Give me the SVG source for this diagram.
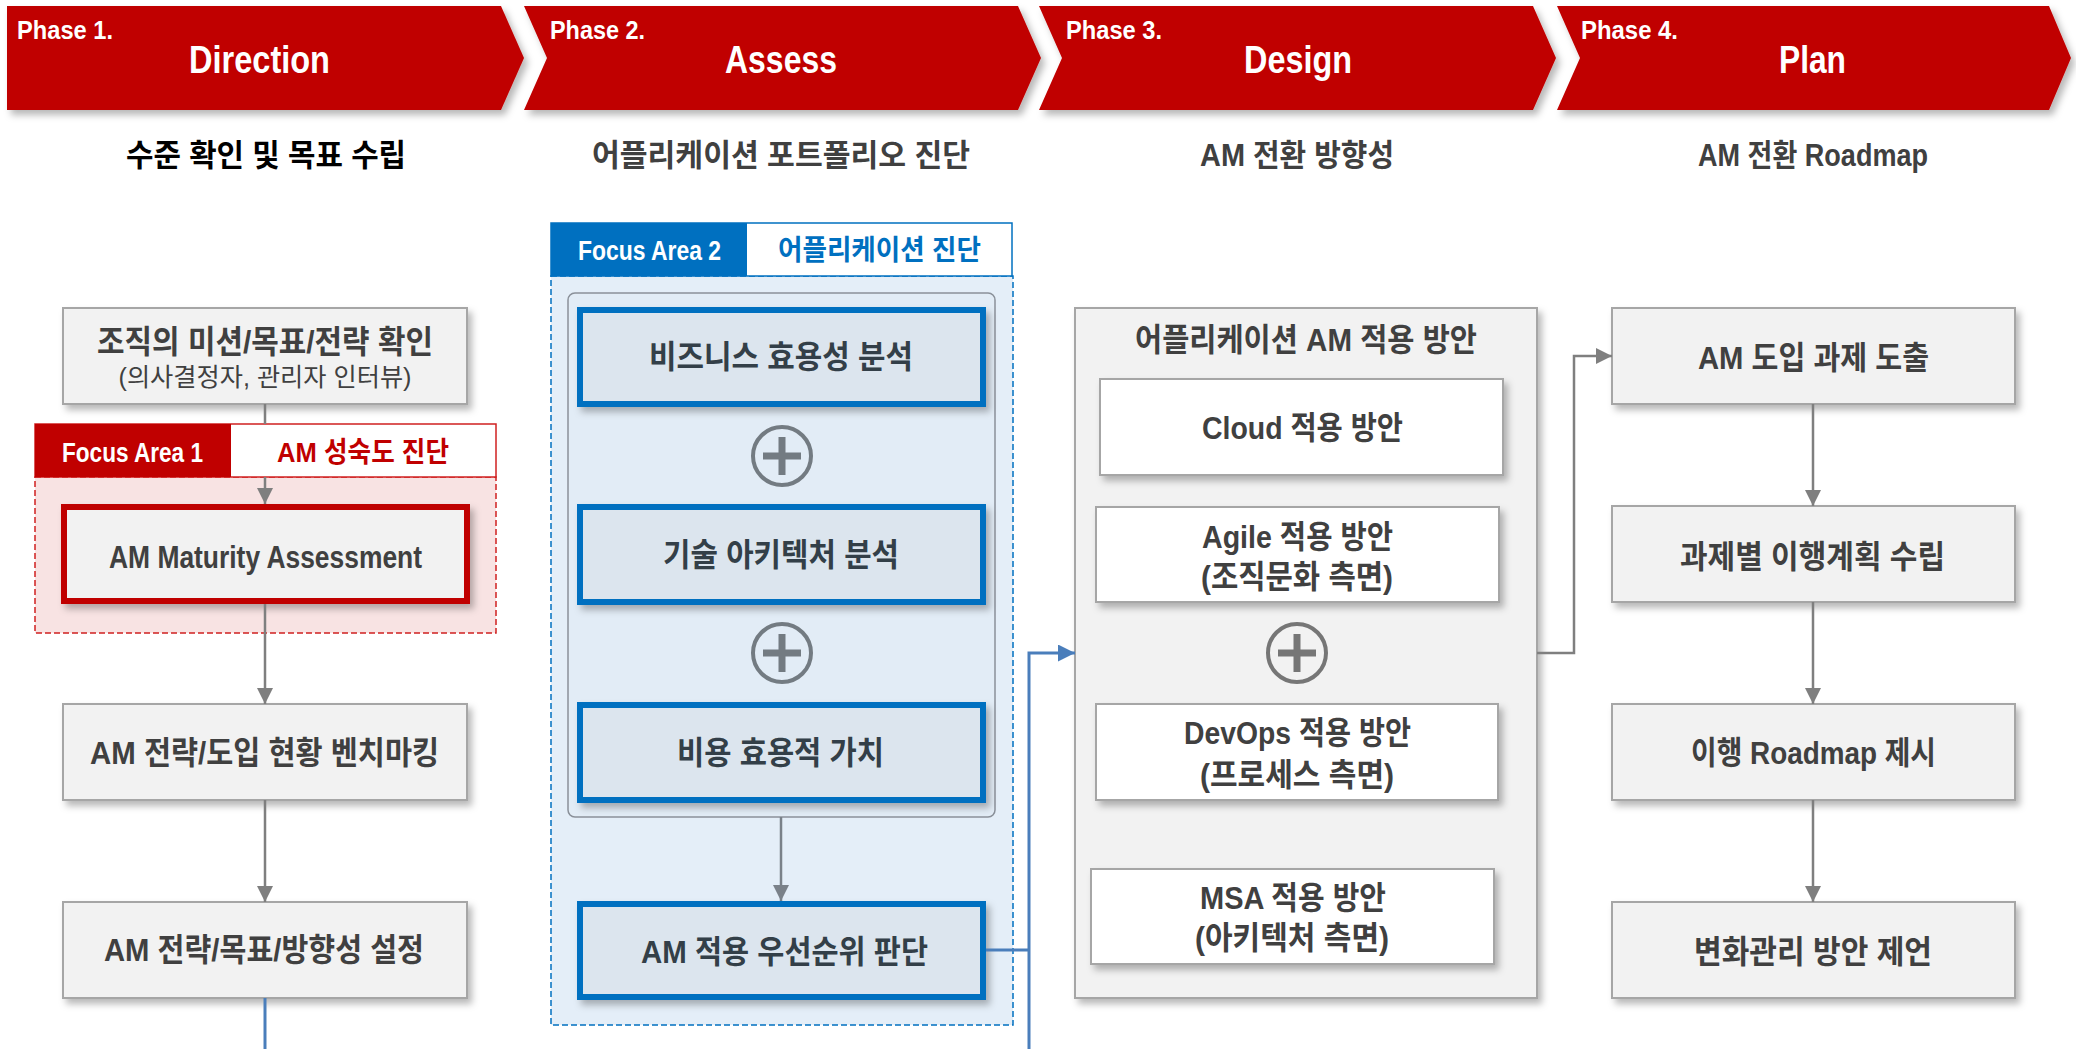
<svg xmlns="http://www.w3.org/2000/svg" width="2076" height="1049" viewBox="0 0 2076 1049">
<style>
text{font-family:'Liberation Sans Narrow','Liberation Sans','Noto Sans CJK KR',sans-serif;font-weight:bold;text-anchor:middle;}
.ph{fill:#fff;font-size:25px;text-anchor:start;}
.pt{fill:#fff;font-size:39px;}
.sub{fill:#404040;font-size:31px;}
.t{fill:#404040;font-size:32px;}
.tb{fill:#333f48;font-size:32px;}
.sm{fill:#404040;font-size:25px;font-weight:normal;}
.fa{fill:#fff;font-size:28px;}
.banner{fill:#c00000;}
.box{fill:#f2f2f2;stroke:#a6a6a6;stroke-width:2;}
.wbox{fill:#fff;stroke:#a6a6a6;stroke-width:2;}
.rbox{fill:#f2f2f2;stroke:#c00000;stroke-width:6;}
.bbox{fill:#dce5ee;stroke:#0070c0;stroke-width:6;}
.plus{fill:none;stroke:#737b82;stroke-width:4;}
.plusl{stroke:#737b82;stroke-width:7;}
.gc{fill:none;stroke:#7f7f7f;stroke-width:2.5;}
.bc{fill:none;stroke:#7a8189;stroke-width:2.5;}
.blc{fill:none;stroke:#4a7ebb;stroke-width:3;}
</style>
<defs>
<filter id="sh" x="-5%" y="-10%" width="115%" height="130%">
<feDropShadow dx="4" dy="5" stdDeviation="3.5" flood-color="#000" flood-opacity="0.28"/>
</filter>
<marker id="ag" markerUnits="userSpaceOnUse" markerWidth="16" markerHeight="16" refX="16" refY="8" orient="auto"><path d="M0,0 L16,8 L0,16 z" fill="#7f7f7f"/></marker>
<marker id="ab" markerUnits="userSpaceOnUse" markerWidth="16" markerHeight="16" refX="16" refY="8" orient="auto"><path d="M0,0 L16,8 L0,16 z" fill="#7a8189"/></marker>
<marker id="al" markerUnits="userSpaceOnUse" markerWidth="18" markerHeight="18" refX="17" refY="8.5" orient="auto"><path d="M0,0 L17,8.5 L0,17 z" fill="#4a7ebb"/></marker>
</defs>
<rect width="2076" height="1049" fill="#fff"/>

<g id="phase1">
<path class="banner" filter="url(#sh)" d="M7,6 L501,6 L524,58 L501,110 L7,110 z"/>
<text class="ph" x="17" y="39" textLength="96" lengthAdjust="spacingAndGlyphs">Phase 1.</text>
<text class="pt" x="259.5" y="73" textLength="141" lengthAdjust="spacingAndGlyphs">Direction</text>
<text class="sub" x="266" y="166" style="fill:#000" textLength="280" lengthAdjust="spacingAndGlyphs">수준 확인 및 목표 수립</text>
</g>
<g id="phase2">
<path class="banner" filter="url(#sh)" d="M524,6 L1018,6 L1041,58 L1018,110 L524,110 L547,58 z"/>
<text class="ph" x="550" y="39" textLength="95" lengthAdjust="spacingAndGlyphs">Phase 2.</text>
<text class="pt" x="781" y="73" textLength="112" lengthAdjust="spacingAndGlyphs">Assess</text>
<text class="sub" x="781" y="166" textLength="378" lengthAdjust="spacingAndGlyphs">어플리케이션 포트폴리오 진단</text>
</g>
<g id="phase3">
<path class="banner" filter="url(#sh)" d="M1039,6 L1533,6 L1556,58 L1533,110 L1039,110 L1062,58 z"/>
<text class="ph" x="1066" y="39" textLength="96" lengthAdjust="spacingAndGlyphs">Phase 3.</text>
<text class="pt" x="1298" y="73" textLength="108" lengthAdjust="spacingAndGlyphs">Design</text>
<text class="sub" x="1297" y="166" textLength="194" lengthAdjust="spacingAndGlyphs">AM 전환 방향성</text>
</g>
<g id="phase4">
<path class="banner" filter="url(#sh)" d="M1557,6 L2049,6 L2071,58 L2049,110 L1557,110 L1580,58 z"/>
<text class="ph" x="1581" y="39" textLength="97" lengthAdjust="spacingAndGlyphs">Phase 4.</text>
<text class="pt" x="1812.5" y="73" textLength="67" lengthAdjust="spacingAndGlyphs">Plan</text>
<text class="sub" x="1813" y="166" textLength="230" lengthAdjust="spacingAndGlyphs">AM 전환 Roadmap</text>
</g>

<!-- Column 1 -->
<g id="mission">
<rect class="box" filter="url(#sh)" x="63" y="308" width="404" height="96"/>
<text class="t" x="265" y="353" textLength="336" lengthAdjust="spacingAndGlyphs">조직의 미션/목표/전략 확인</text>
<text class="sm" x="265" y="386" textLength="293" lengthAdjust="spacingAndGlyphs">(의사결정자, 관리자 인터뷰)</text>
</g>
<g id="focus1">
<rect x="35" y="477" width="461" height="156" fill="#f8e3e3" stroke="#d02020" stroke-width="1.5" stroke-dasharray="6 3"/>
<rect x="35" y="424" width="461" height="53" fill="#fff" stroke="#d02020" stroke-width="1.5"/>
<rect x="35" y="424" width="196" height="53" fill="#c00000"/>
<text class="fa" x="132.5" y="462" textLength="141" lengthAdjust="spacingAndGlyphs">Focus Area 1</text>
<text class="fa" x="363" y="462" style="fill:#c00000" textLength="172" lengthAdjust="spacingAndGlyphs">AM 성숙도 진단</text>
</g>
<g id="maturity">
<rect class="rbox" filter="url(#sh)" x="64" y="507" width="403" height="94"/>
<text class="t" x="265.5" y="568" textLength="313" lengthAdjust="spacingAndGlyphs">AM Maturity Assessment</text>
</g>
<g id="benchmark">
<rect class="box" filter="url(#sh)" x="63" y="704" width="404" height="96"/>
<text class="t" x="264.5" y="764" textLength="349" lengthAdjust="spacingAndGlyphs">AM 전략/도입 현황 벤치마킹</text>
</g>
<g id="strategy">
<rect class="box" filter="url(#sh)" x="63" y="902" width="404" height="96"/>
<text class="t" x="264" y="961" textLength="320" lengthAdjust="spacingAndGlyphs">AM 전략/목표/방향성 설정</text>
</g>

<!-- Column 2 -->
<g id="focus2">
<rect x="551" y="276" width="462" height="749" fill="#e4eef8" stroke="#0070c0" stroke-width="1.5" stroke-dasharray="6 3"/>
<rect x="551" y="223" width="461" height="53" fill="#fff" stroke="#0070c0" stroke-width="1.5"/>
<rect x="551" y="223" width="196" height="53" fill="#0070c0"/>
<text class="fa" x="649.5" y="260" textLength="143" lengthAdjust="spacingAndGlyphs">Focus Area 2</text>
<text class="fa" x="879.5" y="260" style="fill:#0070c0" textLength="203" lengthAdjust="spacingAndGlyphs">어플리케이션 진단</text>
<rect x="568" y="293" width="427" height="524" rx="7" fill="#e2ecf6" stroke="#8a9099" stroke-width="1.5"/>
</g>
<g id="biz">
<rect class="bbox" filter="url(#sh)" x="580" y="310" width="403" height="94"/>
<text class="tb" x="781" y="368" textLength="264" lengthAdjust="spacingAndGlyphs">비즈니스 효용성 분석</text>
</g>
<g id="plus1">
<circle class="plus" cx="782" cy="456" r="29"/>
<path class="plusl" d="M763,456 H801 M782,437 V475"/>
</g>
<g id="tech">
<rect class="bbox" filter="url(#sh)" x="580" y="507" width="403" height="95"/>
<text class="tb" x="781" y="566" textLength="236" lengthAdjust="spacingAndGlyphs">기술 아키텍처 분석</text>
</g>
<g id="plus2">
<circle class="plus" cx="782" cy="653" r="29"/>
<path class="plusl" d="M763,653 H801 M782,634 V672"/>
</g>
<g id="cost">
<rect class="bbox" filter="url(#sh)" x="580" y="705" width="403" height="95"/>
<text class="tb" x="780.5" y="764" textLength="207" lengthAdjust="spacingAndGlyphs">비용 효용적 가치</text>
</g>
<g id="priority">
<rect class="bbox" filter="url(#sh)" x="580" y="904" width="403" height="93"/>
<text class="tb" x="784.5" y="963" textLength="287" lengthAdjust="spacingAndGlyphs">AM 적용 우선순위 판단</text>
</g>

<!-- Column 3 -->
<g id="design">
<rect class="box" filter="url(#sh)" x="1075" y="308" width="462" height="690"/>
<text class="t" x="1306" y="351" textLength="342" lengthAdjust="spacingAndGlyphs">어플리케이션 AM 적용 방안</text>
</g>
<g id="cloud">
<rect class="wbox" filter="url(#sh)" x="1100" y="379" width="403" height="96"/>
<text class="t" x="1302.5" y="439" textLength="201" lengthAdjust="spacingAndGlyphs">Cloud 적용 방안</text>
</g>
<g id="agile">
<rect class="wbox" filter="url(#sh)" x="1096" y="507" width="403" height="95"/>
<text class="t" x="1297.5" y="548" textLength="191" lengthAdjust="spacingAndGlyphs">Agile 적용 방안</text>
<text class="t" x="1297" y="588" textLength="192" lengthAdjust="spacingAndGlyphs">(조직문화 측면)</text>
</g>
<g id="plus3">
<circle class="plus" cx="1297" cy="653" r="29" style="stroke:#767676"/>
<path class="plusl" style="stroke:#767676" d="M1278,653 H1316 M1297,634 V672"/>
</g>
<g id="devops">
<rect class="wbox" filter="url(#sh)" x="1096" y="704" width="402" height="96"/>
<text class="t" x="1297.5" y="744" textLength="227" lengthAdjust="spacingAndGlyphs">DevOps 적용 방안</text>
<text class="t" x="1297" y="786" textLength="194" lengthAdjust="spacingAndGlyphs">(프로세스 측면)</text>
</g>
<g id="msa">
<rect class="wbox" filter="url(#sh)" x="1091" y="869" width="403" height="95"/>
<text class="t" x="1293" y="909" textLength="186" lengthAdjust="spacingAndGlyphs">MSA 적용 방안</text>
<text class="t" x="1292" y="949" textLength="194" lengthAdjust="spacingAndGlyphs">(아키텍처 측면)</text>
</g>

<!-- Column 4 -->
<g id="task">
<rect class="box" filter="url(#sh)" x="1612" y="308" width="403" height="96"/>
<text class="t" x="1813.5" y="369" textLength="231" lengthAdjust="spacingAndGlyphs">AM 도입 과제 도출</text>
</g>
<g id="plan">
<rect class="box" filter="url(#sh)" x="1612" y="506" width="403" height="96"/>
<text class="t" x="1812.5" y="568" textLength="265" lengthAdjust="spacingAndGlyphs">과제별 이행계획 수립</text>
</g>
<g id="roadmap">
<rect class="box" filter="url(#sh)" x="1612" y="704" width="403" height="96"/>
<text class="t" x="1813.5" y="764" textLength="245" lengthAdjust="spacingAndGlyphs">이행 Roadmap 제시</text>
</g>
<g id="change">
<rect class="box" filter="url(#sh)" x="1612" y="902" width="403" height="96"/>
<text class="t" x="1813" y="963" textLength="238" lengthAdjust="spacingAndGlyphs">변화관리 방안 제언</text>
</g>

<g id="connectors">
<path class="gc" d="M265,404 V424"/>
<path class="gc" marker-end="url(#ag)" d="M265,477 V504"/>
<path class="gc" marker-end="url(#ag)" d="M265,604 V704"/>
<path class="gc" marker-end="url(#ag)" d="M265,800 V902"/>
<path class="blc" d="M265,998 V1049"/>
<path class="bc" marker-end="url(#ab)" d="M781,817 V901"/>
<path class="blc" d="M986,950 H1029"/>
<path class="blc" marker-end="url(#al)" d="M1029,1049 V653 H1075"/>
<path class="gc" marker-end="url(#ag)" d="M1537,653 H1574 V356 H1612"/>
<path class="gc" marker-end="url(#ag)" d="M1813,404 V506"/>
<path class="gc" marker-end="url(#ag)" d="M1813,602 V704"/>
<path class="gc" marker-end="url(#ag)" d="M1813,800 V902"/>
</g>
</svg>
